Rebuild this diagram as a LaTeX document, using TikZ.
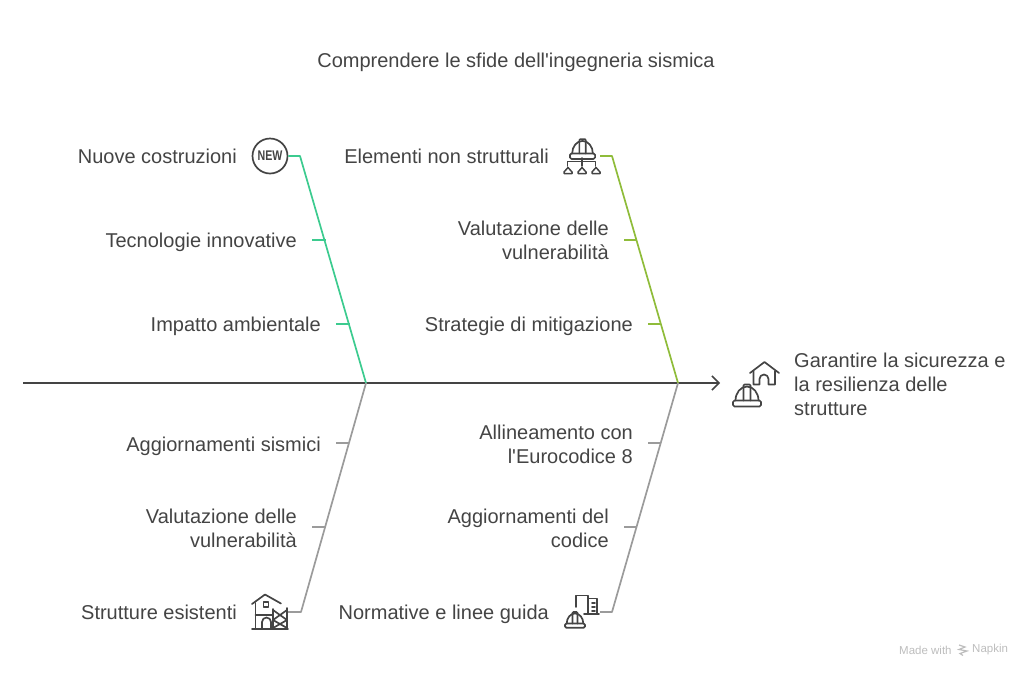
\documentclass[tikz,border=0pt]{standalone}
\usepackage{fontspec}
\setmainfont{Liberation Sans}
\usepackage{tikz}
\usetikzlibrary{arrows.meta,positioning,calc}

\definecolor{inkgray}{HTML}{444444}
\definecolor{fishgreen}{HTML}{3CCB8F}
\definecolor{fisholive}{HTML}{8FBC3A}
\definecolor{fishgray}{HTML}{9B9B9B}
\definecolor{markgray}{HTML}{BDBDBD}

\tikzset{
  label/.style={text=inkgray,font=\fontsize{20}{24}\selectfont,inner sep=0pt,align=right,anchor=east,
    execute at begin node=\strut,execute at end node=\strut,yshift=-2.7pt},
  multilabel/.style={label,yshift=-1pt},
  bone/.style={line width=1.7pt,line join=round},
  icon/.style={draw=inkgray,line width=1.7pt,line join=round,line cap=round},
  hardhat/.pic={
    \draw[icon,rounded corners=1.5pt] (-14,0) rectangle (14,6);
    \draw[icon] (-11.5,0) arc [start angle=-180,end angle=0,x radius=11.5,y radius=14];
    \draw[icon,rounded corners=1pt] (-3.5,0) -- (-3.5,-16) -- (3.5,-16) -- (3.5,0);
  },
  minihat/.pic={
    \draw[icon,line width=1.5pt] (-4,3.5) -- (-4,2) -- (0,-2.5) -- (4,2) -- (4,3.5) -- cycle;
  }
}

\begin{document}
\begin{tikzpicture}[x=1pt,y=-1pt]
\useasboundingbox (0,0) rectangle (1032,678);

% Title
\node[label,anchor=center] (title) at (516,60) {Comprendere le sfide dell\textquotesingle ingegneria sismica};

% Spine
\coordinate (tail) at (23,383);
\coordinate (head) at (720,383);
\coordinate (jointa) at (366,383);
\coordinate (jointb) at (678,383);
\draw[line width=1.5pt,draw=inkgray,-{Straight Barb[length=7pt,width=14pt]}] (tail) -- (head);

% Top left bone
\node[circle,draw=inkgray,line width=1.7pt,minimum size=35pt,inner sep=0pt] (newicon) at (270,156) {};
\node[text=inkgray,font=\bfseries\fontsize{14}{14}\selectfont,xscale=.76,inner sep=0pt] (newtext) at (270,156) {NEW};
\coordinate (bendtl) at (300,156);
\draw[bone,draw=fishgreen] (newicon.east) -- (bendtl) -- (jointa);
\node[label] (nuove) at (237,156) {Nuove costruzioni};
\node[label] (tecno) at (297,240) {Tecnologie innovative};
\node[label] (impatto) at (321,324) {Impatto ambientale};
\coordinate (tla) at (312,240);
\coordinate (tlb) at (326,240);
\coordinate (tlc) at (336,324);
\coordinate (tld) at (350,324);
\draw[bone,draw=fishgreen] (tla) -- (tlb);
\draw[bone,draw=fishgreen] (tlc) -- (tld);

% Top right bone
\coordinate (hatstart) at (600,156);
\coordinate (bendtr) at (612,156);
\draw[bone,draw=fisholive] (hatstart) -- (bendtr) -- (jointb);
\node[label] (elementi) at (549,156) {Elementi non strutturali};
\node[multilabel] (valtop) at (609,240) {Valutazione delle\\vulnerabilità};
\node[label] (strategie) at (633,324) {Strategie di mitigazione};
\coordinate (tra) at (624,240);
\coordinate (trb) at (637,240);
\coordinate (trc) at (648,324);
\coordinate (trd) at (661,324);
\draw[bone,draw=fisholive] (tra) -- (trb);
\draw[bone,draw=fisholive] (trc) -- (trd);

% Bottom left bone
\coordinate (housestart) at (288,612);
\coordinate (bendbl) at (301,612);
\draw[bone,draw=fishgray] (jointa) -- (bendbl) -- (housestart);
\node[label] (aggsis) at (321,444) {Aggiornamenti sismici};
\node[multilabel] (valbot) at (297,528) {Valutazione delle\\vulnerabilità};
\node[label] (esistenti) at (237,612) {Strutture esistenti};
\coordinate (bla) at (336,443);
\coordinate (blb) at (349,443);
\coordinate (blc) at (312,527);
\coordinate (bld) at (325,527);
\draw[bone,draw=fishgray] (bla) -- (blb);
\draw[bone,draw=fishgray] (blc) -- (bld);

% Bottom right bone
\coordinate (docstart) at (600,612);
\coordinate (bendbr) at (612,612);
\draw[bone,draw=fishgray] (jointb) -- (bendbr) -- (docstart);
\node[multilabel] (allinea) at (633,444) {Allineamento con\\l\textquotesingle Eurocodice 8};
\node[multilabel] (aggcod) at (609,528) {Aggiornamenti del\\codice};
\node[label] (normative) at (549,612) {Normative e linee guida};
\coordinate (bra) at (648,443);
\coordinate (brb) at (661,443);
\coordinate (brc) at (624,527);
\coordinate (brd) at (637,527);
\draw[bone,draw=fishgray] (bra) -- (brb);
\draw[bone,draw=fishgray] (brc) -- (brd);

% Outcome
\node[multilabel,anchor=west,align=left] (goal) at (794,384) {Garantire la sicurezza e\\la resilienza delle\\strutture};

% Icon hat and org chart
\pic[scale=.9] at (582.5,153.5) {hardhat};
\draw[icon] (567.5,166) -- (567.5,161.5) -- (595.5,161.5) -- (595.5,166);
\draw[icon] (582,158) -- (582,166);
\pic at (568,170) {minihat};
\pic at (582,170) {minihat};
\pic at (596,170) {minihat};

% Icon house and scaffold
\draw[icon] (252,604) -- (265,594.5) -- (281,603.5);
\draw[icon] (255.5,603) -- (255.5,629);
\draw[icon] (252,629) -- (288,629);
\draw[icon] (255.5,615) -- (273,615);
\draw[icon] (263.5,602) rectangle (268.5,607);
\draw[icon] (262,629) -- (262,622) arc (-180:0:4.5) -- (271,629);
\draw[icon] (273,609) -- (273,629);
\draw[icon] (287,608) -- (287,629);
\draw[icon] (273,610) -- (287,620) -- (273,628);
\draw[icon] (287,610) -- (273,620) -- (287,628);

% Icon buildings and hat
\draw[icon] (576,607) -- (576,595.5) -- (588,595.5) -- (588,614);
\draw[icon] (588,598.5) -- (597,598.5) -- (597,614);
\draw[icon] (592,603) -- (595,603);
\draw[icon] (592,607) -- (595,607);
\draw[icon] (592,611) -- (595,611);
\draw[icon] (584,614) -- (599,614);
\pic[scale=.72] at (575,623.5) {hardhat};

% Icon house and hat for outcome
\draw[icon] (750,373) -- (764.5,362) -- (779,373);
\draw[icon] (753.5,371) -- (753.5,384.5) -- (759.5,384.5) -- (759.5,379) arc (-180:0:4.5) -- (768.5,384.5) -- (775,384.5) -- (775,371);
\pic at (747,400.5) {hardhat};

% Watermark
\node[text=markgray,font=\fontsize{11.5}{12}\selectfont,inner sep=0pt,anchor=west,yshift=-.5pt] (made) at (899,650) {Made with};
\node[text=markgray,font=\fontsize{11.5}{12}\selectfont,inner sep=0pt,anchor=west,yshift=.5pt] (napkin) at (972,650) {Napkin};
\draw[markgray,line width=1.2pt] (959,645) -- (965,647) -- (959,649.5) -- (967,651) -- (960,653.5) -- (963,655.5);
\end{tikzpicture}
\end{document}
